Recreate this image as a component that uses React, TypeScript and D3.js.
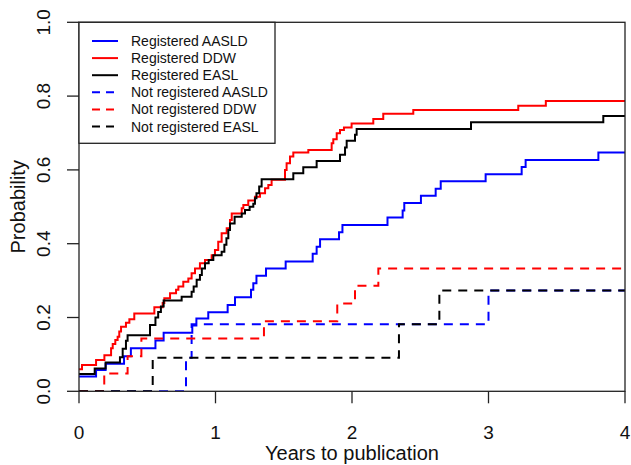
import React from "react";
import * as d3 from "d3";

type Pt = [number, number];

const xTicks = [0, 1, 2, 3, 4];
const yTicks = [0, 0.2, 0.4, 0.6, 0.8, 1.0];

const regAASLD: Pt[] = [
  [0, 0.04], [0.125, 0.058], [0.195, 0.075], [0.33, 0.095], [0.38, 0.117], [0.56, 0.138],
  [0.62, 0.159], [0.83, 0.178], [0.86, 0.197], [0.947, 0.214], [1.089, 0.234], [1.143, 0.255],
  [1.26, 0.275], [1.277, 0.293], [1.3, 0.313], [1.37, 0.333], [1.514, 0.352], [1.712, 0.373],
  [1.741, 0.392], [1.766, 0.412], [1.905, 0.431], [1.93, 0.451], [2.26, 0.471], [2.371, 0.49],
  [2.383, 0.51], [2.505, 0.53], [2.613, 0.549], [2.65, 0.569], [2.979, 0.588], [3.243, 0.608],
  [3.272, 0.627], [3.805, 0.647],
];

const regDDW: Pt[] = [
  [0, 0.06], [0.022, 0.071], [0.125, 0.085], [0.186, 0.098], [0.235, 0.117], [0.247, 0.128],
  [0.266, 0.139], [0.283, 0.148], [0.295, 0.162], [0.308, 0.175], [0.344, 0.186], [0.369, 0.195],
  [0.405, 0.211], [0.552, 0.228], [0.613, 0.239], [0.625, 0.252], [0.667, 0.266], [0.711, 0.275],
  [0.728, 0.284], [0.764, 0.297], [0.801, 0.306], [0.825, 0.32], [0.85, 0.333], [0.886, 0.347],
  [0.923, 0.356], [0.972, 0.369], [0.996, 0.383], [1.02, 0.405], [1.045, 0.428], [1.082, 0.442],
  [1.106, 0.464], [1.119, 0.482], [1.192, 0.496], [1.204, 0.505], [1.24, 0.517], [1.289, 0.527],
  [1.326, 0.537], [1.363, 0.55], [1.387, 0.559], [1.411, 0.573], [1.509, 0.6], [1.521, 0.618],
  [1.546, 0.636], [1.57, 0.647], [1.68, 0.654], [1.851, 0.672], [1.863, 0.683], [1.888, 0.699],
  [1.912, 0.708], [1.941, 0.715], [1.997, 0.726], [2.156, 0.738], [2.229, 0.752], [2.449, 0.762],
  [3.218, 0.774], [3.42, 0.787],
];

const regEASL: Pt[] = [
  [0, 0.047], [0.115, 0.062], [0.195, 0.078], [0.3, 0.092], [0.32, 0.115], [0.344, 0.137],
  [0.356, 0.152], [0.52, 0.18], [0.56, 0.2], [0.58, 0.215], [0.6, 0.23], [0.62, 0.246],
  [0.752, 0.256], [0.825, 0.27], [0.84, 0.284], [0.862, 0.302], [0.886, 0.315], [0.9, 0.333],
  [0.923, 0.347], [0.95, 0.356], [0.984, 0.369], [1.045, 0.378], [1.065, 0.397], [1.08, 0.415],
  [1.094, 0.437], [1.106, 0.455], [1.14, 0.473], [1.192, 0.482], [1.216, 0.491], [1.25, 0.5],
  [1.277, 0.508], [1.289, 0.523], [1.3, 0.537], [1.32, 0.555], [1.338, 0.575], [1.57, 0.591],
  [1.643, 0.607], [1.741, 0.624], [1.912, 0.641], [1.949, 0.661], [1.961, 0.679], [2.022, 0.695],
  [2.034, 0.711], [2.872, 0.729], [3.841, 0.746],
];

const notAASLD: Pt[] = [[0, 0], [0.784, 0.091], [0.825, 0.182], [3.0, 0.273]];
const notDDW: Pt[] = [
  [0, 0], [0.185, 0.048], [0.356, 0.095], [0.457, 0.143], [1.355, 0.19], [1.892, 0.238],
  [2.022, 0.286], [2.193, 0.333],
];
const notEASL: Pt[] = [[0, 0], [0.54, 0.091], [2.344, 0.182], [2.64, 0.273]];

const seriesNames = [
  "Registered AASLD", "Registered DDW", "Registered EASL",
  "Not registered AASLD", "Not registered DDW", "Not registered EASL",
];
const seriesData = [regAASLD, regDDW, regEASL, notAASLD, notDDW, notEASL];
const seriesColors = ["#0000FF", "#FF0000", "#000000", "#0000FF", "#FF0000", "#000000"];
const seriesDashed = [false, false, false, true, true, true];

const W = 631;
const H = 465;
const L = 79, R = 625, T = 22.3, B = 391.3;
const FONT = "'Liberation Sans', Arial, sans-serif";

export default function App() {
  const x = d3.scaleLinear().domain([0, 4]).range([L, R]);
  const y = d3.scaleLinear().domain([0, 1]).range([B, T]);
  const line = d3
    .line<Pt>()
    .x((d) => x(d[0]))
    .y((d) => y(d[1]))
    .curve(d3.curveStepAfter);

  const legendRow0 = 41;
  const legendStep = 17.1;

  return (
    <svg
      width={W}
      height={H}
      style={{ position: "absolute", left: 0, top: 0, background: "#fff" }}
      fontFamily={FONT}
    >
      <rect x={0} y={0} width={W} height={H} fill="#fff" />
      <defs>
        <clipPath id="plotclip">
          <rect x={L} y={T} width={R - L} height={B - T} />
        </clipPath>
      </defs>
      <g clipPath="url(#plotclip)">
        {seriesData.map((data, i) => {
          const pts: Pt[] = [...data, [4, data[data.length - 1][1]]];
          return (
            <path
              key={i}
              d={line(pts) || ""}
              fill="none"
              stroke={seriesColors[i]}
              strokeWidth={2}
              strokeDasharray={seriesDashed[i] ? "9 7" : undefined}
            />
          );
        })}
      </g>
      {/* box */}
      <rect x={L} y={T} width={R - L} height={B - T} fill="none" stroke="#222" strokeWidth={1.3} />
      {/* x axis */}
      {xTicks.map((t) => (
        <g key={"x" + t}>
          <line x1={x(t)} x2={x(t)} y1={B} y2={B + 12} stroke="#222" strokeWidth={1.3} />
          <text x={x(t)} y={439} textAnchor="middle" fontSize={19} fill="#111">
            {t}
          </text>
        </g>
      ))}
      {/* y axis */}
      {yTicks.map((t) => (
        <g key={"y" + t}>
          <line x1={L - 12} x2={L} y1={y(t)} y2={y(t)} stroke="#222" strokeWidth={1.3} />
          <text
            transform={`translate(50,${y(t)}) rotate(-90)`}
            textAnchor="middle"
            fontSize={19}
            fill="#111"
          >
            {t.toFixed(1)}
          </text>
        </g>
      ))}
      <text x={(L + R) / 2} y={460} textAnchor="middle" fontSize={20} fill="#111">
        Years to publication
      </text>
      <text
        transform={`translate(25,${(T + B) / 2}) rotate(-90)`}
        textAnchor="middle"
        fontSize={20}
        fill="#111"
      >
        Probability
      </text>
      {/* legend */}
      <rect x={L} y={T} width={275 - L} height={143.3 - T} fill="#fff" stroke="#222" strokeWidth={1.3} />
      {seriesNames.map((name, i) => {
        const yy = legendRow0 + i * legendStep;
        return (
          <g key={"lg" + i}>
            <line
              x1={92}
              x2={118}
              y1={yy}
              y2={yy}
              stroke={seriesColors[i]}
              strokeWidth={2}
              strokeDasharray={seriesDashed[i] ? "8 6" : undefined}
            />
            <text x={131} y={yy + 5} fontSize={14} fill="#111">
              {name}
            </text>
          </g>
        );
      })}
    </svg>
  );
}
